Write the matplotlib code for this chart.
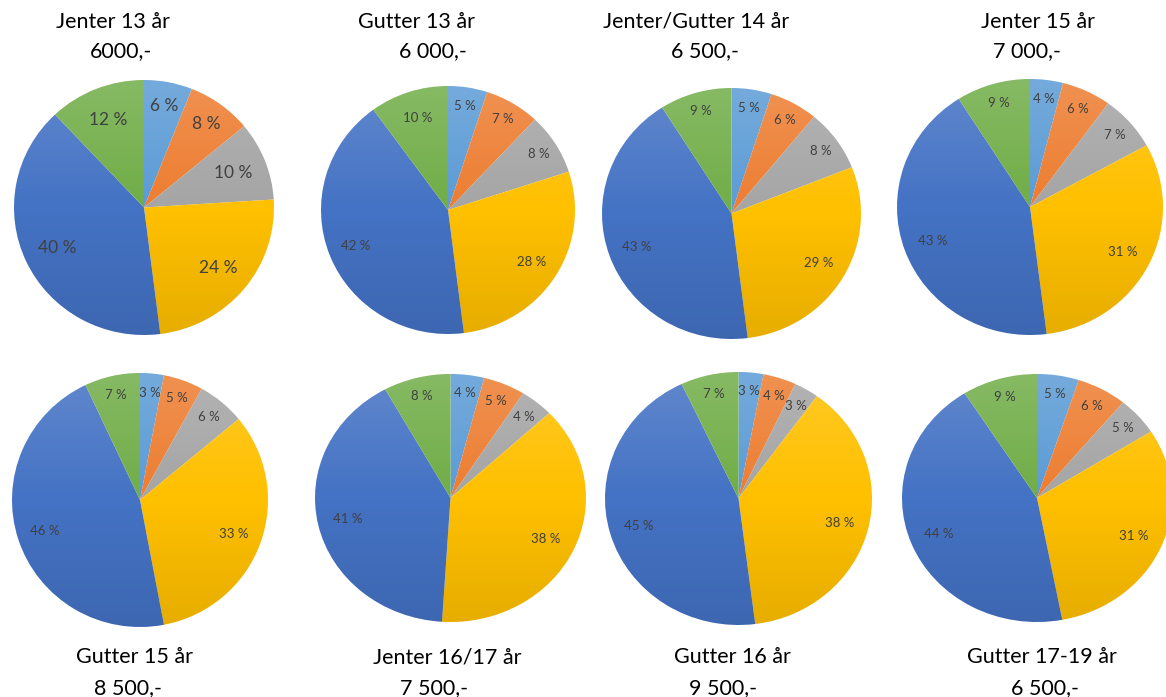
import matplotlib
matplotlib.use("Agg")
import matplotlib.pyplot as plt
from matplotlib.patches import Circle
import numpy as np

plt.rcParams['font.family'] = ['Lato', 'DejaVu Sans']

# data: share of spending per category, clockwise from 12 o'clock
groups = ["Jenter 13 år", "Gutter 13 år", "Jenter/Gutter 14 år", "Jenter 15 år",
          "Gutter 15 år", "Jenter 16/17 år", "Gutter 16 år", "Gutter 17-19 år"]
amounts = ["6000,-", "6 000,-", "6 500,-", "7 000,-",
           "8 500,-", "7 500,-", "9 500,-", "6 500,-"]
shares = [
    [6, 8, 10, 24, 40, 12],
    [5, 7, 8, 28, 42, 10],
    [5, 6, 8, 29, 43, 9],
    [4, 6, 7, 31, 43, 9],
    [3, 5, 6, 33, 46, 7],
    [4, 5, 4, 38, 41, 8],
    [3, 4, 3, 38, 45, 7],
    [5, 6, 5, 31, 44, 9],
]

colors = ["#5B9BD5", "#ED7D31", "#A5A5A5", "#FFC000", "#4472C4", "#70AD47"]

W, H = 1166, 697
# pie bounding boxes in pixels (left, top, right, bottom)
boxes = [(14, 80, 274, 335), (321, 86, 575, 334), (602, 88, 861, 339), (897, 79, 1163, 335),
         (12, 373, 268, 627), (315, 374, 586, 622), (605, 372, 872, 625), (902, 374, 1172, 622)]
# title line centres in pixels: (x1, y1, x2, y2)
title_pos = [(113, 22, 121, 51), (417, 22, 433, 51), (696, 22, 705, 51), (1038, 22, 1027, 51),
             (135, 657, 128, 688), (447, 657, 434, 688), (732, 657, 723, 688), (1042, 657, 1045, 688)]

fig = plt.figure(figsize=(W / 100, H / 100), dpi=100)

# vertical light-to-dark shading overlay
grad = np.zeros((256, 1, 4))
t = np.linspace(0, 1, 256)
for k in range(256):
    if t[k] < 0.5:
        grad[k, 0] = [1, 1, 1, 0.16 * (1 - t[k] / 0.5)]
    else:
        grad[k, 0] = [0, 0, 0, 0.10 * (t[k] - 0.5) / 0.5]

for i, vals in enumerate(shares):
    x0, y0, x1, y1 = boxes[i]
    ax = fig.add_axes([x0 / W, 1 - y1 / H, (x1 - x0) / W, (y1 - y0) / H])
    wedges, _ = ax.pie(vals, colors=colors, startangle=90, counterclock=False,
                       wedgeprops=dict(linewidth=0))
    ax.set_aspect('auto')
    ax.axis('off')

    img = ax.imshow(grad, extent=(-1, 1, -1, 1), aspect='auto', zorder=3, interpolation='bilinear')
    img.set_clip_path(Circle((0, 0), 1, transform=ax.transData))
    ax.set_xlim(-1, 1)
    ax.set_ylim(-1, 1)

    fs = 12.5 if i == 0 else 9.5
    for w, v in zip(wedges, vals):
        mid = np.deg2rad((w.theta1 + w.theta2) / 2)
        d = 0.85 if v < 10 else 0.78
        if i == 0:
            d -= 0.04
        ax.text(d * np.cos(mid), d * np.sin(mid), f"{v} %", ha='center', va='center',
                fontsize=fs, color='#404040', zorder=4)

    tx1, ty1, tx2, ty2 = title_pos[i]
    fig.text(tx1 / W, 1 - ty1 / H, groups[i], ha='center', va='center', fontsize=15.5, color='black')
    fig.text(tx2 / W, 1 - ty2 / H, amounts[i], ha='center', va='center', fontsize=15.5, color='black')

fig.savefig("out.png", dpi=100)
